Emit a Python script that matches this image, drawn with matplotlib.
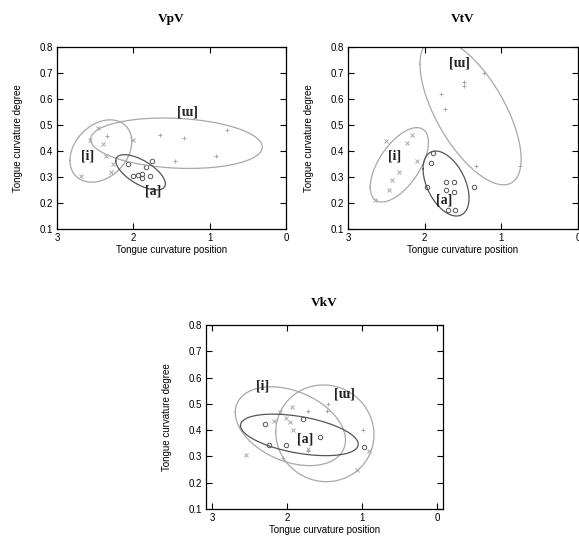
"""Tongue curvature scatter panels (VpV, VtV, VkV) with vowel ellipses."""

import matplotlib

matplotlib.use("Agg")
import matplotlib.pyplot as plt  # noqa: E402
import numpy as np  # noqa: E402

# --- data ------------------------------------------------------------------
panel_titles = ["VpV", "VtV", "VkV"]
vowels = ["[i]", "[ɯ]", "[a]"]
x_label = "Tongue curvature position"
y_label = "Tongue curvature degree"
x_ticks = [3, 2, 1, 0]
y_ticks = [0.1, 0.2, 0.3, 0.4, 0.5, 0.6, 0.7, 0.8]

# VpV
vpv_i_x = [2.46, 2.57, 2.40, 2.36, 2.26, 2.29, 2.68, 2.00]
vpv_i_y = [0.49, 0.443, 0.426, 0.379, 0.35, 0.321, 0.302, 0.443]
vpv_u_x = [2.35, 1.65, 1.33, 0.77, 0.92, 1.46]
vpv_u_y = [0.459, 0.46, 0.451, 0.48, 0.38, 0.36]
vpv_a_x = [2.07, 1.84, 1.76, 2.00, 1.94, 1.88, 1.88, 1.78]
vpv_a_y = [0.35, 0.34, 0.362, 0.302, 0.306, 0.311, 0.296, 0.302]

# VtV
vtv_i_x = [2.50, 2.23, 2.16, 2.10, 2.34, 2.43, 2.47, 2.65]
vtv_i_y = [0.44, 0.43, 0.46, 0.36, 0.32, 0.29, 0.25, 0.21]
vtv_u_x = [1.22, 1.49, 1.49, 1.79, 1.74, 1.33, 0.76]
vtv_u_y = [0.70, 0.664, 0.65, 0.62, 0.562, 0.343, 0.343]
vtv_a_x = [1.89, 1.91, 1.975, 1.72, 1.61, 1.72, 1.62, 1.35, 1.69, 1.60]
vtv_a_y = [0.394, 0.353, 0.26, 0.28, 0.28, 0.25, 0.242, 0.26, 0.174, 0.172]

# VkV
vkv_i_x = [1.93, 2.10, 2.18, 2.01, 1.96, 1.92, 1.72, 2.55, 0.91, 1.07]
vkv_i_y = [0.49, 0.47, 0.436, 0.445, 0.432, 0.40, 0.33, 0.305, 0.322, 0.25]
vkv_u_x = [1.45, 1.72, 1.47, 1.72, 2.06, 0.99]
vkv_u_y = [0.50, 0.473, 0.473, 0.322, 0.293, 0.40]
vkv_a_x = [2.30, 1.79, 1.56, 2.24, 2.01, 0.97]
vkv_a_y = [0.423, 0.442, 0.375, 0.344, 0.344, 0.337]

# ellipse summaries per panel, in order [i], [ɯ], [a]:
# centre x, centre y, half range x, half range y, correlation
vpv_ell_cx = [2.425, 1.435, 1.905]
vpv_ell_cy = [0.40, 0.43, 0.318]
vpv_ell_ax = [0.405, 1.125, 0.325]
vpv_ell_by = [0.12, 0.097, 0.068]
vpv_ell_rho = [-0.3, 0.15, 0.65]

vtv_ell_cx = [2.33, 1.40, 1.72]
vtv_ell_cy = [0.347, 0.551, 0.275]
vtv_ell_ax = [0.38, 0.66, 0.30]
vtv_ell_by = [0.143, 0.281, 0.125]
vtv_ell_rho = [-0.6, 0.65, 0.45]

vkv_ell_cx = [1.955, 1.495, 1.835]
vkv_ell_cy = [0.415, 0.388, 0.382]
vkv_ell_ax = [0.735, 0.655, 0.785]
vkv_ell_by = [0.15, 0.184, 0.079]
vkv_ell_rho = [0.35, 0.03, 0.45]

# vowel label anchors per panel, order [i], [ɯ], [a]
vpv_lab_x = [2.60, 1.29, 1.74]
vpv_lab_y = [0.38, 0.55, 0.245]
vtv_lab_x = [2.39, 1.54, 1.75]
vtv_lab_y = [0.38, 0.74, 0.21]
vkv_lab_x = [2.32, 1.23, 1.76]
vkv_lab_y = [0.568, 0.538, 0.365]

# --- styling ----------------------------------------------------------------
LIGHT = "#a8a8a8"
DARK = "#555555"
vowel_colors = [LIGHT, LIGHT, DARK]
vowel_markers = ["x", "+", "o"]
SANS = ["Liberation Sans", "DejaVu Sans"]
SERIF = ["Liberation Serif", "DejaVu Serif"]


def ellipse_outline(cx, cy, ax_half, by_half, rho, n=240):
    t = np.linspace(0, 2 * np.pi, n)
    xs = cx + ax_half * np.cos(t)
    ys = cy + by_half * (rho * np.cos(t) + np.sqrt(1 - rho**2) * np.sin(t))
    return xs, ys


def draw_panel(ax, title, title_pad, xlim, points, ell, labels):
    for (xs, ys), color, marker in zip(points, vowel_colors, vowel_markers):
        ax.plot(xs, ys, linestyle="none", marker=marker, markersize=3.2,
                markerfacecolor="none", markeredgecolor=color,
                markeredgewidth=0.7)
    cxs, cys, axs, bys, rhos = ell
    for k in range(3):
        ex, ey = ellipse_outline(cxs[k], cys[k], axs[k], bys[k], rhos[k])
        ax.plot(ex, ey, color=vowel_colors[k], linewidth=0.9)
    for k, name in enumerate(vowels):
        ax.text(labels[0][k], labels[1][k], name, family=SERIF,
                fontweight="bold", fontsize=10, ha="center", va="center",
                color="#222222")

    ax.set_xlim(*xlim)
    ax.set_ylim(0.1, 0.8)
    ax.set_xticks(x_ticks)
    ax.set_yticks(y_ticks)
    ax.set_yticklabels([f"{v:.1f}" for v in y_ticks])
    ax.tick_params(direction="in", top=True, right=True, length=4,
                   width=0.8, labelsize=7, pad=3)
    for lab in ax.get_xticklabels() + ax.get_yticklabels():
        lab.set_family(SANS)
    ax.set_xlabel(x_label, family=SANS, fontsize=7, labelpad=1)
    ax.set_ylabel(y_label, family=SANS, fontsize=7, labelpad=12)
    ax.set_title(title, family=SERIF, fontweight="bold", fontsize=9.5,
                 pad=title_pad)
    for spine in ax.spines.values():
        spine.set_linewidth(0.9)


fig = plt.figure(figsize=(5.79, 5.40), dpi=100)
ax1 = fig.add_axes([0.0984, 0.5759, 0.3955, 0.337])
ax2 = fig.add_axes([0.601, 0.5759, 0.397, 0.337])
ax3 = fig.add_axes([0.3558, 0.0574, 0.4093, 0.3407])

draw_panel(ax1, panel_titles[0], 18, (3, 0),
           [(vpv_i_x, vpv_i_y), (vpv_u_x, vpv_u_y), (vpv_a_x, vpv_a_y)],
           (vpv_ell_cx, vpv_ell_cy, vpv_ell_ax, vpv_ell_by, vpv_ell_rho),
           (vpv_lab_x, vpv_lab_y))
draw_panel(ax2, panel_titles[1], 18, (3, 0),
           [(vtv_i_x, vtv_i_y), (vtv_u_x, vtv_u_y), (vtv_a_x, vtv_a_y)],
           (vtv_ell_cx, vtv_ell_cy, vtv_ell_ax, vtv_ell_by, vtv_ell_rho),
           (vtv_lab_x, vtv_lab_y))
draw_panel(ax3, panel_titles[2], 14, (3.08, -0.08),
           [(vkv_i_x, vkv_i_y), (vkv_u_x, vkv_u_y), (vkv_a_x, vkv_a_y)],
           (vkv_ell_cx, vkv_ell_cy, vkv_ell_ax, vkv_ell_by, vkv_ell_rho),
           (vkv_lab_x, vkv_lab_y))

fig.savefig("out.png", dpi=100)
plt.close(fig)
